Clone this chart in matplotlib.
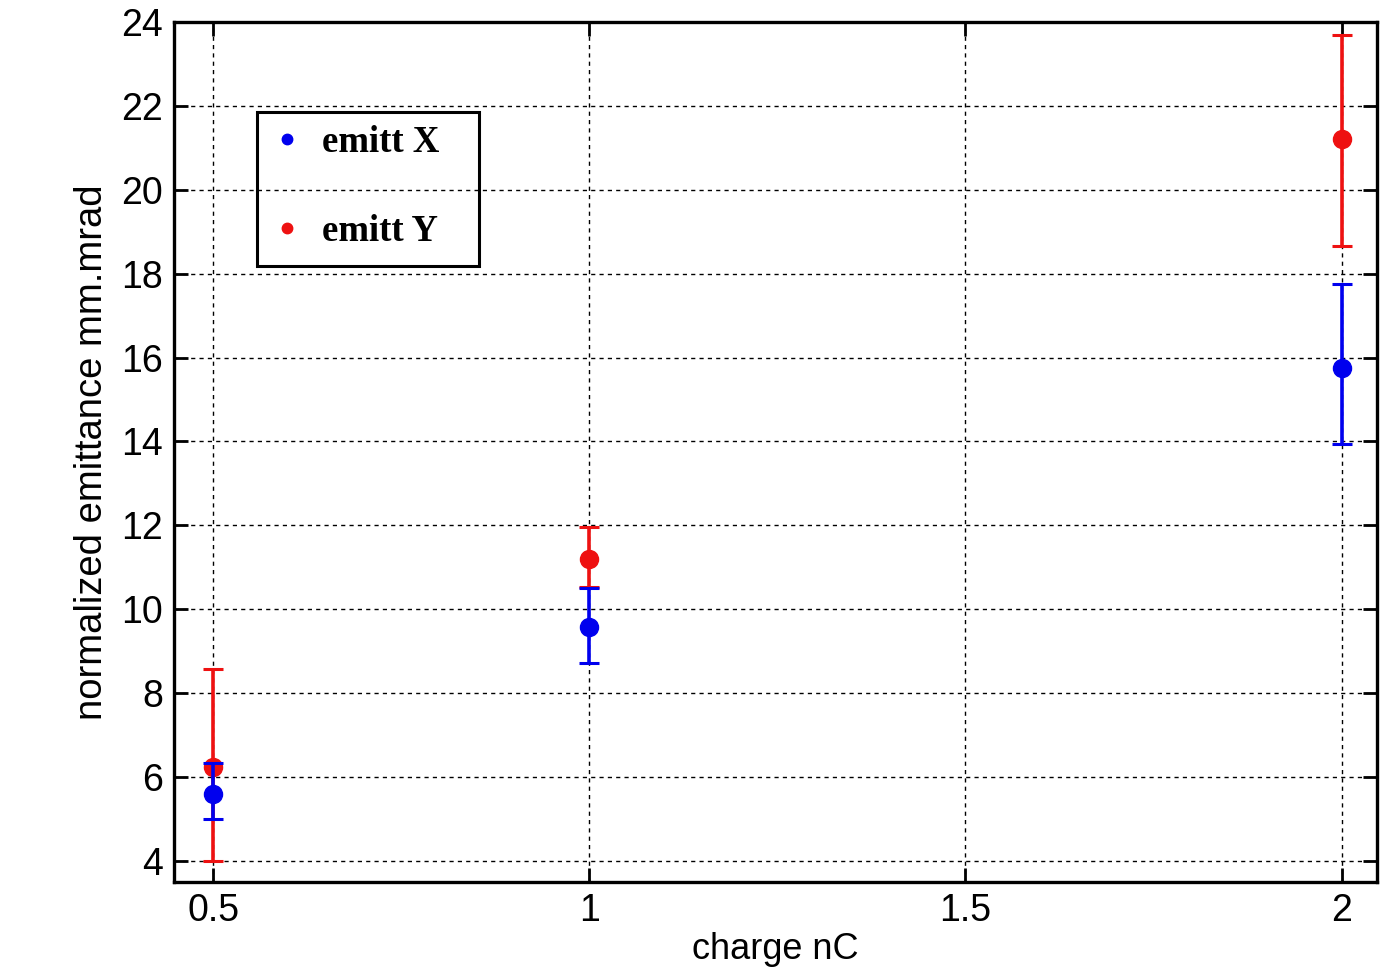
import numpy as np
import matplotlib
matplotlib.use('Agg')
import matplotlib.pyplot as plt
from matplotlib.patches import Rectangle

# charge in nC
charge = [0.5, 1.0, 2.0]

# emittance X (mm.mrad) with lower / upper error ends
emx = [5.6, 9.58, 15.76]
emx_lo = [5.0, 8.72, 13.95]
emx_hi = [6.33, 10.5, 17.75]

# emittance Y
emy = [6.24, 11.19, 21.2]
emy_lo = [4.0, 10.52, 18.67]
emy_hi = [8.57, 11.97, 23.68]

xticks = [0.5, 1, 1.5, 2]
xticklabels = ['0.5', '1', '1.5', '2']
yticks = [4, 6, 8, 10, 12, 14, 16, 18, 20, 22, 24]

plt.rcParams['font.family'] = ['Liberation Sans', 'DejaVu Sans']

fig = plt.figure(figsize=(13.91, 9.72), dpi=100)
ax = fig.add_axes([0.1251, 0.0926, 0.9899 - 0.1251, 0.9774 - 0.0926])

def errs(v, lo, hi):
    v = np.array(v); lo = np.array(lo); hi = np.array(hi)
    return np.vstack([v - lo, hi - v])

red = '#ee1111'
blue = '#0000ee'
ax.errorbar(charge, emy, yerr=errs(emy, emy_lo, emy_hi), fmt='o', color=red,
            ms=13, elinewidth=2.6, capsize=7, capthick=2.2, zorder=3)
ax.errorbar(charge, emx, yerr=errs(emx, emx_lo, emx_hi), fmt='o', color=blue,
            ms=13, elinewidth=2.6, capsize=7, capthick=2.2, zorder=4)

# legend: small dots like matlab, box drawn by hand
hx, = ax.plot([], [], '.', color=blue, ms=15, label='emitt X')
hy, = ax.plot([], [], '.', color=red, ms=15, label='emitt Y')
leg = ax.legend(handles=[hx, hy], loc='upper left', bbox_to_anchor=(0.083, 0.880),
                prop={'family': 'Liberation Serif', 'weight': 'bold', 'size': 26.5},
                frameon=False, handlelength=0.7, handletextpad=0.6,
                labelspacing=1.45, borderpad=0, borderaxespad=0)
ax.add_patch(Rectangle((0.069, 0.7163), 0.2535 - 0.069, 0.8953 - 0.7163,
                       transform=ax.transAxes, fill=False, edgecolor='black',
                       linewidth=2.2, zorder=5))

ax.set_xlim(0.448, 2.047)
ax.set_ylim(3.5, 24)
ax.set_xticks(xticks)
ax.set_xticklabels(xticklabels)
ax.set_yticks(yticks)
ax.tick_params(direction='in', length=10, width=2, labelsize=27, top=True, right=True, pad=8)
ax.grid(True, color='black', linestyle=(0, (3, 3)), linewidth=1)
for s in ax.spines.values():
    s.set_linewidth(2.4)

ax.set_xlabel('charge nC', fontsize=26, labelpad=2)
ax.set_ylabel('normalized emittance mm.mrad', fontsize=27.5, labelpad=8)

fig.savefig('out.png', dpi=100)
